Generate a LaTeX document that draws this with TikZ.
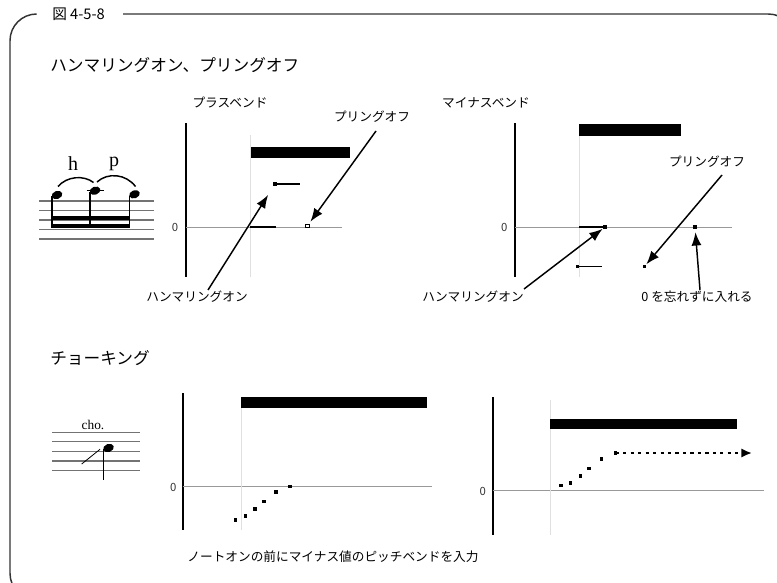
\documentclass[tikz,border=0pt]{standalone}
\usepackage{fontspec}
\setmainfont{Noto Sans CJK JP}
\newfontfamily\serifr{Liberation Serif}
\usetikzlibrary{arrows.meta}
\begin{document}
\begin{tikzpicture}[x=0.75pt,y=-0.75pt,
  frame/.style={draw=black!80,line width=1.1pt},
  lbl/.style={font=\fontsize{9.5}{11}\selectfont,inner sep=0pt},
  ttl/.style={font=\fontsize{12.5}{14}\selectfont,inner sep=0pt,anchor=west},
  zlbl/.style={font=\fontsize{8.5}{10}\selectfont,inner sep=0pt,text=black!80},
  axis/.style={line width=1.5pt},
  zline/.style={draw=black!40,line width=0.7pt},
  vline/.style={draw=black!12,line width=0.7pt},
  seg/.style={line width=1.1pt},
  dotpt/.style={fill=black,inner sep=0pt,minimum size=2.4pt,shape=rectangle},
  hollowpt/.style={draw=black,fill=white,line width=0.6pt,inner sep=0pt,minimum size=2.6pt,shape=rectangle},
  arr/.style={-{Latex[length=10pt,width=7.5pt]},line width=1.1pt},
  staff/.style={draw=black!55,line width=0.8pt},
  note/.style={fill=black},
  serifl/.style={font=\serifr\fontsize{15}{16}\selectfont,inner sep=0pt},
  serifs/.style={font=\serifr\fontsize{10}{11}\selectfont,inner sep=0pt}
]
\useasboundingbox (0,0) rectangle (777,582);
% frame
\draw[frame,rounded corners=20] (35,14) -- (10,14) -- (10,600) -- (40,600);
\draw[frame,rounded corners=20] (123,14) -- (795,14) -- (795,60);
\node[inner sep=0pt,anchor=west,font=\fontsize{11}{13}\selectfont] (fig) at (52,14) {図 4-5-8};

% titles
\node[ttl] (t1) at (50,65) {ハンマリングオン、プリングオフ};
\node[ttl] (t2) at (50,358) {チョーキング};

% ---- music 1
\foreach \yy in {201,210.5,220,229.5,239} \draw[staff] (39,\yy) -- (154,\yy);
\fill[note,rotate around={20:(57,195)}] (57,195) ellipse [x radius=5.5,y radius=4];
\fill[note,rotate around={20:(95,190.7)}] (95,190.7) ellipse [x radius=5.5,y radius=4];
\fill[note,rotate around={20:(134.5,194.3)}] (134.5,194.3) ellipse [x radius=5.5,y radius=4];
\draw[line width=0.8pt] (86.5,190.7) -- (104,190.7);
\draw[line width=1pt] (52,196) -- (52,228);
\draw[line width=1pt] (90,192) -- (90,228);
\draw[line width=1pt] (129.5,195.5) -- (129.5,228);
\fill (51.6,216.2) rectangle (130,220.2);
\fill (51.6,224.2) rectangle (130,228.2);
\draw[line width=1.1pt] (58,186.5) .. controls (67,176) and (84,175) .. (93.5,182.5);
\draw[line width=1.1pt] (97,182) .. controls (108,172) and (126,174) .. (135.5,186.5);
\node[serifl] (hh) at (73,164) {h};
\node[serifl] (pp) at (114,164) {p};

% ---- plus bend
\node[lbl] (pbT) at (230,103) {プラスベンド};
\draw[axis] (186,123) -- (186,277);
\node[zlbl] (pb0) at (175,227) {0};
\draw[zline] (186,227) -- (342,227);
\draw[vline] (250,135) -- (250,277);
\fill (250.7,146.7) rectangle (350,158.3);
\draw[seg] (250,227) -- (276,227);
\node[dotpt] (pbH) at (275,184) {};
\draw[seg] (pbH.center) -- (300,184);
\node[hollowpt] (pbP) at (307.3,226) {};
\node[lbl] (pbPL) at (372,117) {プリングオフ};
\node[lbl] (pbHL) at (197,297) {ハンマリングオン};
\coordinate (pbHs) at (208,290);
\coordinate (pbPs) at (376,131);
\draw[arr,shorten >=8pt] (pbHs) -- (pbH);
\draw[arr,shorten >=2pt] (pbPs) -- (pbP);

% ---- minus bend
\node[lbl] (mbT) at (486,103) {マイナスベンド};
\draw[axis] (515,123) -- (515,277);
\node[zlbl] (mb0) at (504.3,227) {0};
\draw[zline] (515,227) -- (732,227);
\draw[vline] (579.3,133) -- (579.3,277);
\fill (579.3,124.3) rectangle (681,136);
\draw[seg] (579.3,227) -- (605,227);
\node[dotpt] (mbH) at (605,227) {};
\node[dotpt] (mbL) at (577.7,266.7) {};
\draw[seg] (mbL.center) -- (602.3,266.7);
\node[dotpt] (mbP) at (644.3,266.7) {};
\node[dotpt] (mbZ) at (695,227) {};
\node[lbl] (mbPL) at (707,162) {プリングオフ};
\node[lbl] (mbHL) at (473,297) {ハンマリングオン};
\node[lbl] (mbZL) at (697,297) {0 を忘れずに入れる};
\coordinate (mbHs) at (524,289);
\coordinate (mbPs) at (722,175);
\coordinate (mbZs) at (700,290);
\draw[arr,shorten >=0.5pt] (mbHs) -- (mbH);
\draw[arr,shorten >=0.5pt] (mbPs) -- (mbP);
\draw[arr,shorten >=2.5pt] (mbZs) -- (mbZ);

% ---- music 2
\foreach \yy in {432.3,441.7,451.5,461,470.7} \draw[staff] (52,\yy) -- (140,\yy);
\node[serifs] (cho) at (93,425) {cho.};
\fill[note,rotate around={20:(108.5,448)}] (108.5,448) ellipse [x radius=5.5,y radius=4];
\draw[line width=1pt] (103.5,449) -- (103.5,480);
\draw[line width=0.6pt] (81.7,464) -- (100,449.3);

% ---- choking graph 1
\draw[axis] (182.7,393) -- (182.7,530);
\node[zlbl] (c10) at (173.3,487) {0};
\draw[zline] (182.7,486.7) -- (432,486.7);
\draw[vline] (241,398) -- (241,530);
\fill (241,397.3) rectangle (427.3,407.7);
\foreach \px/\py [count=\i] in {235.7/520,245.7/516,255/509,264/501.7,276/492,290/486.5}
  \node[dotpt] (c1d\i) at (\px,\py) {};

% ---- choking graph 2
\draw[axis] (492.7,397) -- (492.7,535);
\node[zlbl] (c20) at (482.7,491.7) {0};
\draw[zline] (492.7,490) -- (764,490);
\draw[vline] (550,400) -- (550,535);
\fill (550,419.3) rectangle (737.3,429.3);
\foreach \px/\py [count=\i] in {561/485.7,570.7/483,580.3/476,589/468.7,601.7/459,615.7/453}
  \node[dotpt] (c2d\i) at (\px,\py) {};
\coordinate (c2end) at (752,453);
\draw[line width=1.6pt,dash pattern=on 2.4pt off 3.2pt,-{Latex[length=8pt,width=7pt]}] (c2d6.center) -- (c2end);

% bottom caption
\node[lbl] (cap) at (333,557) {ノートオンの前にマイナス値のピッチベンドを入力};
\end{tikzpicture}
\end{document}
